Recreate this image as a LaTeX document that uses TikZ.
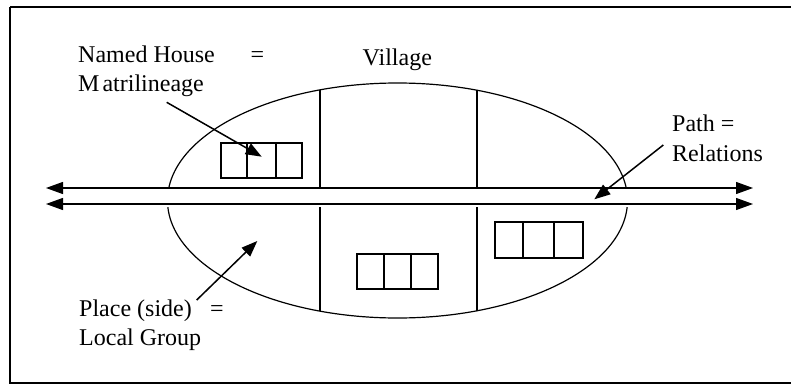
\documentclass[tikz,border=0pt]{standalone}
\usepackage{fontspec}
\setmainfont{Liberation Serif}
\usetikzlibrary{arrows.meta}
\begin{document}
\begin{tikzpicture}[x=1pt,y=-1pt,
  lbl/.style={anchor=base west,inner sep=0pt,font=\fontsize{24}{29.5}\selectfont},
  thinln/.style={line width=1.2pt},
  tip/.style={-{Triangle[length=17pt,width=12pt]}},
  ptr/.style={line width=1.5pt,-{Triangle[length=16pt,width=12pt]}},
  hbox/.style={line width=2.6pt},
  hdiv/.style={line width=1.4pt}]
\useasboundingbox (0,0) rectangle (791,385);
% frame
\draw[line width=2.4pt] (10,7) -- (800,7) (10,7) -- (10,383) -- (800,383);
% ellipse (village), cut by the path
\begin{scope}
  \clip (0,0) rectangle (791,188);
  \draw[thinln] (397.5,200.5) ellipse [x radius=230pt, y radius=117.5pt];
\end{scope}
\begin{scope}
  \clip (0,207) rectangle (791,385);
  \draw[thinln] (397.5,200.5) ellipse [x radius=230pt, y radius=117.5pt];
\end{scope}
% dividing lines
\draw[thinln] (320,90) -- (320,188) (477,90) -- (477,188)
              (320,207) -- (320,311) (477,207) -- (477,311);
% path lines
\coordinate (p1l) at (46,188);
\coordinate (p1r) at (753,188);
\coordinate (p2l) at (46,204);
\coordinate (p2r) at (753,204);
\draw[thinln,{Triangle[length=17pt,width=12pt]}-{Triangle[length=17pt,width=12pt]}] (p1l) -- (p1r);
\draw[thinln,{Triangle[length=17pt,width=12pt]}-{Triangle[length=17pt,width=12pt]}] (p2l) -- (p2r);
% houses
\draw[hdiv] (247,143) -- (247,178) (276,143) -- (276,178);
\draw[hbox] (221,143) rectangle (302,178);
\draw[hdiv] (384,254) -- (384,289) (411,254) -- (411,289);
\draw[hbox] (357,254) rectangle (438,289);
\draw[hdiv] (523,222) -- (523,258) (554,222) -- (554,258);
\draw[hbox] (495,222) rectangle (583,258);
% labels
\node[lbl] (nh) at (78,62.3) {\makebox[172.5pt][l]{Named House}=};
\node[lbl] (ml) at (78,91.7) {M\kern3pt atrilineage};
\node[lbl] (vil) at (362.5,65.5) {Village};
\node[lbl] (pth) at (672,131.7) {Path =};
\node[lbl] (rel) at (672,161.7) {Relations};
\node[lbl] (plc) at (79,316) {\makebox[131pt][l]{Place (side)}=};
\node[lbl] (lg) at (79,345) {Local Group};
% pointers
\coordinate (a1s) at (166.7,102.3);
\coordinate (a1e) at (261.7,156.7);
\coordinate (a2s) at (663.3,145);
\coordinate (a2e) at (594.3,199.3);
\coordinate (a3s) at (196.7,300);
\coordinate (a3e) at (257.3,241);
\draw[ptr] (a1s) -- (a1e);
\draw[ptr] (a2s) -- (a2e);
\draw[ptr] (a3s) -- (a3e);
\end{tikzpicture}
\end{document}
